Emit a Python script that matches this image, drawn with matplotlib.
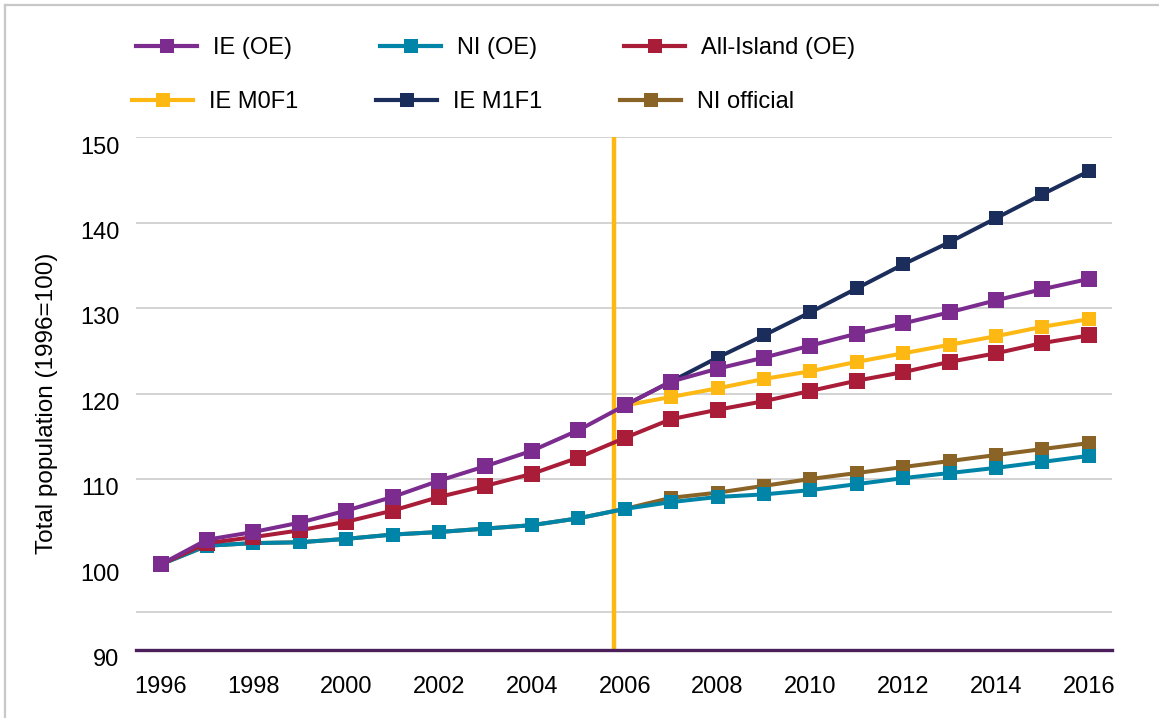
import matplotlib
matplotlib.use("Agg")
import matplotlib.pyplot as plt
from matplotlib.lines import Line2D
from matplotlib.transforms import ScaledTranslation

plt.rcParams["font.family"] = ["Liberation Sans", "DejaVu Sans"]

# --- data (index, 1996 = 100) ---
years = list(range(1996, 2017))
proj_years = list(range(2006, 2017))

ie_oe = [100.0, 102.9, 103.8, 104.9, 106.3, 107.9, 109.8, 111.5, 113.3, 115.7, 118.6,
         121.4, 122.9, 124.2, 125.6, 127.0, 128.2, 129.5, 130.9, 132.2, 133.4]
ni_oe = [100.0, 102.2, 102.5, 102.6, 103.0, 103.5, 103.8, 104.2, 104.6, 105.4, 106.5,
         107.3, 107.9, 108.2, 108.7, 109.4, 110.1, 110.7, 111.3, 112.0, 112.7]
all_island = [100.0, 102.5, 103.2, 104.0, 105.0, 106.3, 107.9, 109.2, 110.6, 112.5, 114.8,
              117.0, 118.1, 119.1, 120.3, 121.5, 122.5, 123.7, 124.7, 125.9, 126.8]
ni_official = [100.0, 102.2, 102.5, 102.6, 103.0, 103.5, 103.8, 104.2, 104.6, 105.4, 106.5,
               107.8, 108.4, 109.2, 110.0, 110.7, 111.4, 112.1, 112.8, 113.5, 114.2]
ie_m0f1 = [118.6, 119.6, 120.6, 121.7, 122.6, 123.7, 124.7, 125.7, 126.7, 127.8, 128.7]
ie_m1f1 = [118.6, 121.4, 124.2, 126.8, 129.5, 132.3, 135.1, 137.7, 140.5, 143.3, 146.0]

base_marker_year = 2005.77
grid_levels = [94.4, 110, 120, 130, 140, 150]
y_ticks = [90, 100, 110, 120, 130, 140, 150]
x_ticks = list(range(1996, 2017, 2))

C_IE = "#7B2C8E"
C_NI = "#0085A8"
C_ALL = "#A91D38"
C_M0 = "#FDB813"
C_M1 = "#1B2D5B"
C_NIOFF = "#8A6327"

W, H = 1159, 718
fig = plt.figure(figsize=(W / 100, H / 100), dpi=100)
ax = fig.add_axes([136 / W, 1 - 650 / H, (1112 - 136) / W, (650 - 137) / H])

for g in grid_levels:
    ax.axhline(g, color="#CCCCCC", lw=1.2, zorder=0)
ax.axvline(base_marker_year, color=C_M0, lw=3.2, zorder=1)

lw = 2.9
series = [
    (years, ni_official, C_NIOFF, 10, "NI official"),
    (years, ni_oe, C_NI, 10, "NI (OE)"),
    (proj_years, ie_m1f1, C_M1, 10, "IE M1F1"),
    (proj_years, ie_m0f1, C_M0, 10, "IE M0F1"),
    (years, all_island, C_ALL, 11.5, "All-Island (OE)"),
    (years, ie_oe, C_IE, 11.5, "IE (OE)"),
]
for i, (xs, ys, c, ms, lab) in enumerate(series):
    ax.plot(xs, ys, color=c, lw=lw, marker="s", ms=ms, mew=0, zorder=3 + i,
            solid_joinstyle="round")

ax.set_xlim(1995.47, 2016.5)
ax.set_ylim(90, 150)
ax.set_xticks(x_ticks)
ax.set_yticks(y_ticks)
ax.tick_params(axis="both", length=0, labelsize=17)
ax.tick_params(axis="x", pad=19)
ax.tick_params(axis="y", pad=12)
for lbl in ax.get_yticklabels():
    lbl.set_transform(lbl.get_transform() + ScaledTranslation(0, -0.08, fig.dpi_scale_trans))

for s in ["top", "right", "left"]:
    ax.spines[s].set_visible(False)
ax.spines["bottom"].set_color("#4B1F5C")
ax.spines["bottom"].set_linewidth(2.4)
ax.spines["bottom"].set_zorder(10)

ax.set_ylabel("Total population (1996=100)", fontsize=17.5)
ax.yaxis.set_label_coords(-0.080, 0.48)

# legend: 2 rows x 3 columns, placed entry by entry
legend_order = [
    ("IE (OE)", C_IE, 136, 48),
    ("NI (OE)", C_NI, 380, 48),
    ("All-Island (OE)", C_ALL, 624, 48),
    ("IE M0F1", C_M0, 132, 102),
    ("IE M1F1", C_M1, 376, 102),
    ("NI official", C_NIOFF, 620, 102),
]
for lab, c, px, py in legend_order:
    h = Line2D([], [], color=c, lw=3, marker="s", ms=10, mew=0)
    fig.legend([h], [lab], loc="center left", bbox_to_anchor=(px / W, 1 - py / H),
               frameon=False, fontsize=17, borderpad=0, borderaxespad=0,
               handlelength=2.6, handletextpad=0.65)

# light frame on the left and top edges
fig.add_artist(Line2D([5 / W, 1], [1 - 5 / H, 1 - 5 / H], color="#C8C8C8", lw=1.6))
fig.add_artist(Line2D([5 / W, 5 / W], [0, 1 - 5 / H], color="#C8C8C8", lw=1.6))

fig.savefig("out.png", dpi=100)
